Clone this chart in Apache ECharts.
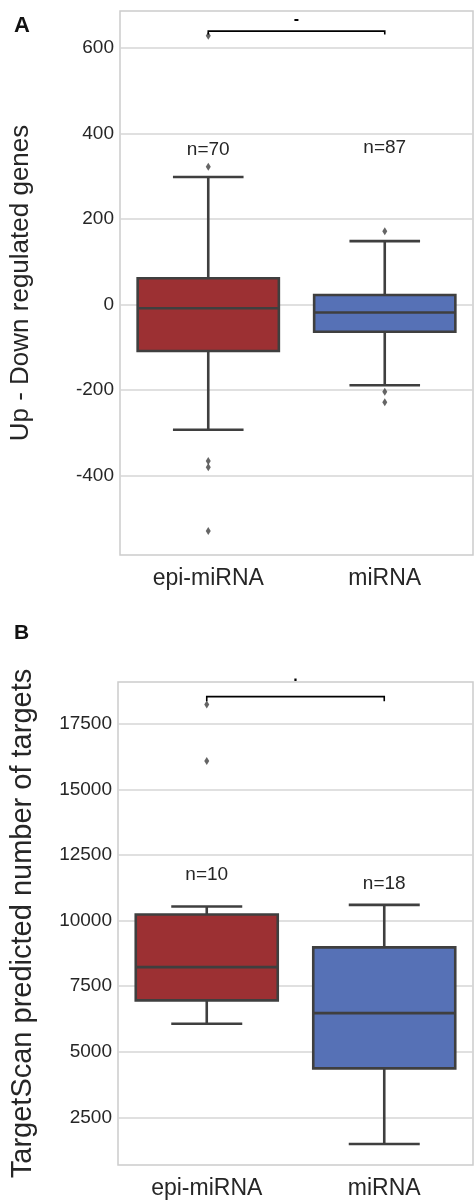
<!DOCTYPE html>
<html>
<head>
<meta charset="utf-8">
<script src="https://cdn.jsdelivr.net/npm/echarts@6/dist/echarts.min.js"></script>
<style>
  html, body { margin: 0; padding: 0; background: #ffffff; }
  #chart { width: 474px; height: 1200px; }
</style>
</head>
<body>
<div id="chart"></div>
<script>
const categories = ['epi-miRNA', 'miRNA'];

// Panel A: up minus down regulated genes
// each row: [lower whisker, Q1, median, Q3, upper whisker]
const boxA = [
  [-293, -109, -9, 61, 298],
  [-189, -64, -19, 22, 148]
];
const outliersA = [
  [0, 628], [0, 322], [0, -366], [0, -381], [0, -530],
  [1, 171], [1, -204], [1, -229]
];
const countLabelsA = ['n=70', 'n=87'];
const countPosA = [361, 366];
const ticksA = [-400, -200, 0, 200, 400, 600];
const rangeA = [-586, 686];
const bracketA = [639, 631];      // bar height, foot height
const sigTextA = '-';
const sigPosA = 667;

// Panel B: TargetScan predicted targets
const boxB = [
  [6067, 6959, 8228, 10236, 10541],
  [1482, 4367, 6475, 8979, 10602]
];
const outliersB = [[0, 18239], [0, 16090]];
const countLabelsB = ['n=10', 'n=18'];
const countPosB = [11760, 11402];
const ticksB = [2500, 5000, 7500, 10000, 12500, 15000, 17500];
const rangeB = [682, 19100];
const bracketB = [18544, 18365];
const sigTextB = '.';
const sigPosB = 19300;

const boxColors = ['#9c3033', '#5671b6'];
const EDGE = '#3f3f3f';
const FONT = 'Liberation Sans, Arial, sans-serif';

function renderBox(params, api) {
  const i = api.value(0);
  const low = api.coord([i, api.value(1)]);
  const q1 = api.coord([i, api.value(2)]);
  const med = api.coord([i, api.value(3)]);
  const q3 = api.coord([i, api.value(4)]);
  const high = api.coord([i, api.value(5)]);
  const band = api.size([1, 0])[0];
  const bw = band * 0.8, cw = band * 0.4;
  const cx = low[0];
  const line = { stroke: EDGE, lineWidth: 2.6 };
  return {
    type: 'group',
    children: [
      { type: 'line', shape: { x1: cx, y1: q3[1], x2: cx, y2: high[1] }, style: line },
      { type: 'line', shape: { x1: cx - cw / 2, y1: high[1], x2: cx + cw / 2, y2: high[1] }, style: line },
      { type: 'line', shape: { x1: cx, y1: q1[1], x2: cx, y2: low[1] }, style: line },
      { type: 'line', shape: { x1: cx - cw / 2, y1: low[1], x2: cx + cw / 2, y2: low[1] }, style: line },
      { type: 'rect', shape: { x: cx - bw / 2, y: q3[1], width: bw, height: q1[1] - q3[1] },
        style: { fill: boxColors[i], stroke: EDGE, lineWidth: 2.6 } },
      { type: 'line', shape: { x1: cx - bw / 2, y1: med[1], x2: cx + bw / 2, y2: med[1] }, style: line }
    ]
  };
}

function renderCount(labels) {
  return function (params, api) {
    const p = api.coord([api.value(0), api.value(1)]);
    return {
      type: 'text',
      x: p[0], y: p[1],
      style: { text: labels[api.value(0)], font: '19px ' + FONT, fill: '#262626',
               align: 'center', verticalAlign: 'middle' }
    };
  };
}

function renderBracket(text) {
  return function (params, api) {
    const a0 = api.coord([api.value(0), api.value(3)]);
    const a1 = api.coord([api.value(0), api.value(2)]);
    const b1 = api.coord([api.value(1), api.value(2)]);
    const b0 = api.coord([api.value(1), api.value(3)]);
    const t = api.coord([api.value(0), api.value(4)]);
    return {
      type: 'group',
      children: [
        { type: 'polyline', shape: { points: [a0, a1, b1, b0] },
          style: { stroke: '#000000', lineWidth: 1.6, fill: null } },
        { type: 'text', x: (a1[0] + b1[0]) / 2, y: t[1],
          style: { text: text, font: 'bold 16px ' + FONT, fill: '#000000',
                   align: 'center', verticalAlign: 'middle' } }
      ]
    };
  };
}

function yAxis(gridIndex, name, range, ticks, gap, nameSize) {
  return {
    type: 'value', gridIndex: gridIndex, min: range[0], max: range[1],
    name: name, nameLocation: 'middle', nameGap: gap,
    nameTextStyle: { fontFamily: FONT, fontSize: nameSize, color: '#262626' },
    axisLine: { show: false },
    axisTick: { show: false, customValues: ticks },
    axisLabel: { customValues: ticks, fontFamily: FONT, fontSize: 19, color: '#262626', margin: 6,
                 formatter: v => String(v) },
    splitLine: { show: true, lineStyle: { color: '#d6d6d6', width: 1.5 } }
  };
}

function xAxis(gridIndex) {
  return {
    type: 'category', gridIndex: gridIndex, data: categories,
    axisLine: { show: false }, axisTick: { show: false },
    axisLabel: { fontFamily: FONT, fontSize: 23, color: '#262626', margin: 12 },
    splitLine: { show: false }
  };
}

function panelSeries(idx, boxes, outliers, counts, labels, bracket, sigText, sigPos) {
  return [
    {
      type: 'custom', xAxisIndex: idx, yAxisIndex: idx, z: 2,
      renderItem: renderBox,
      encode: { x: 0, y: [1, 2, 3, 4, 5] },
      data: boxes.map((b, i) => [i].concat(b))
    },
    {
      type: 'scatter', xAxisIndex: idx, yAxisIndex: idx, z: 3,
      symbol: 'diamond', symbolSize: [5, 8],
      itemStyle: { color: EDGE },
      data: outliers
    },
    {
      type: 'custom', xAxisIndex: idx, yAxisIndex: idx, z: 4,
      renderItem: renderCount(labels),
      data: counts.map((v, i) => [i, v])
    },
    {
      type: 'custom', xAxisIndex: idx, yAxisIndex: idx, z: 4,
      renderItem: renderBracket(sigText),
      data: [[0, 1, bracket[0], bracket[1], sigPos]]
    }
  ];
}

const chart = echarts.init(document.getElementById('chart'), null, { renderer: 'canvas' });
chart.setOption({
  backgroundColor: '#ffffff',
  animation: false,
  graphic: [
    { type: 'text', left: 14, top: 15, style: { text: 'A', font: 'bold 22px ' + FONT, fill: '#111111' } },
    { type: 'text', left: 14, top: 623, style: { text: 'B', font: 'bold 21px ' + FONT, fill: '#111111' } }
  ],
  grid: [
    { left: 119, right: 1, top: 11, height: 544, show: true, borderColor: '#cccccc', borderWidth: 1.5 },
    { left: 117, right: 1, top: 682, height: 483, show: true, borderColor: '#cccccc', borderWidth: 1.5 }
  ],
  xAxis: [xAxis(0), xAxis(1)],
  yAxis: [
    yAxis(0, 'Up - Down regulated genes', rangeA, ticksA, 86, 26),
    yAxis(1, 'TargetScan predicted number of targets', rangeB, ticksB, 81, 29)
  ],
  series: []
    .concat(panelSeries(0, boxA, outliersA, countPosA, countLabelsA, bracketA, sigTextA, sigPosA))
    .concat(panelSeries(1, boxB, outliersB, countPosB, countLabelsB, bracketB, sigTextB, sigPosB))
});
</script>
</body>
</html>
